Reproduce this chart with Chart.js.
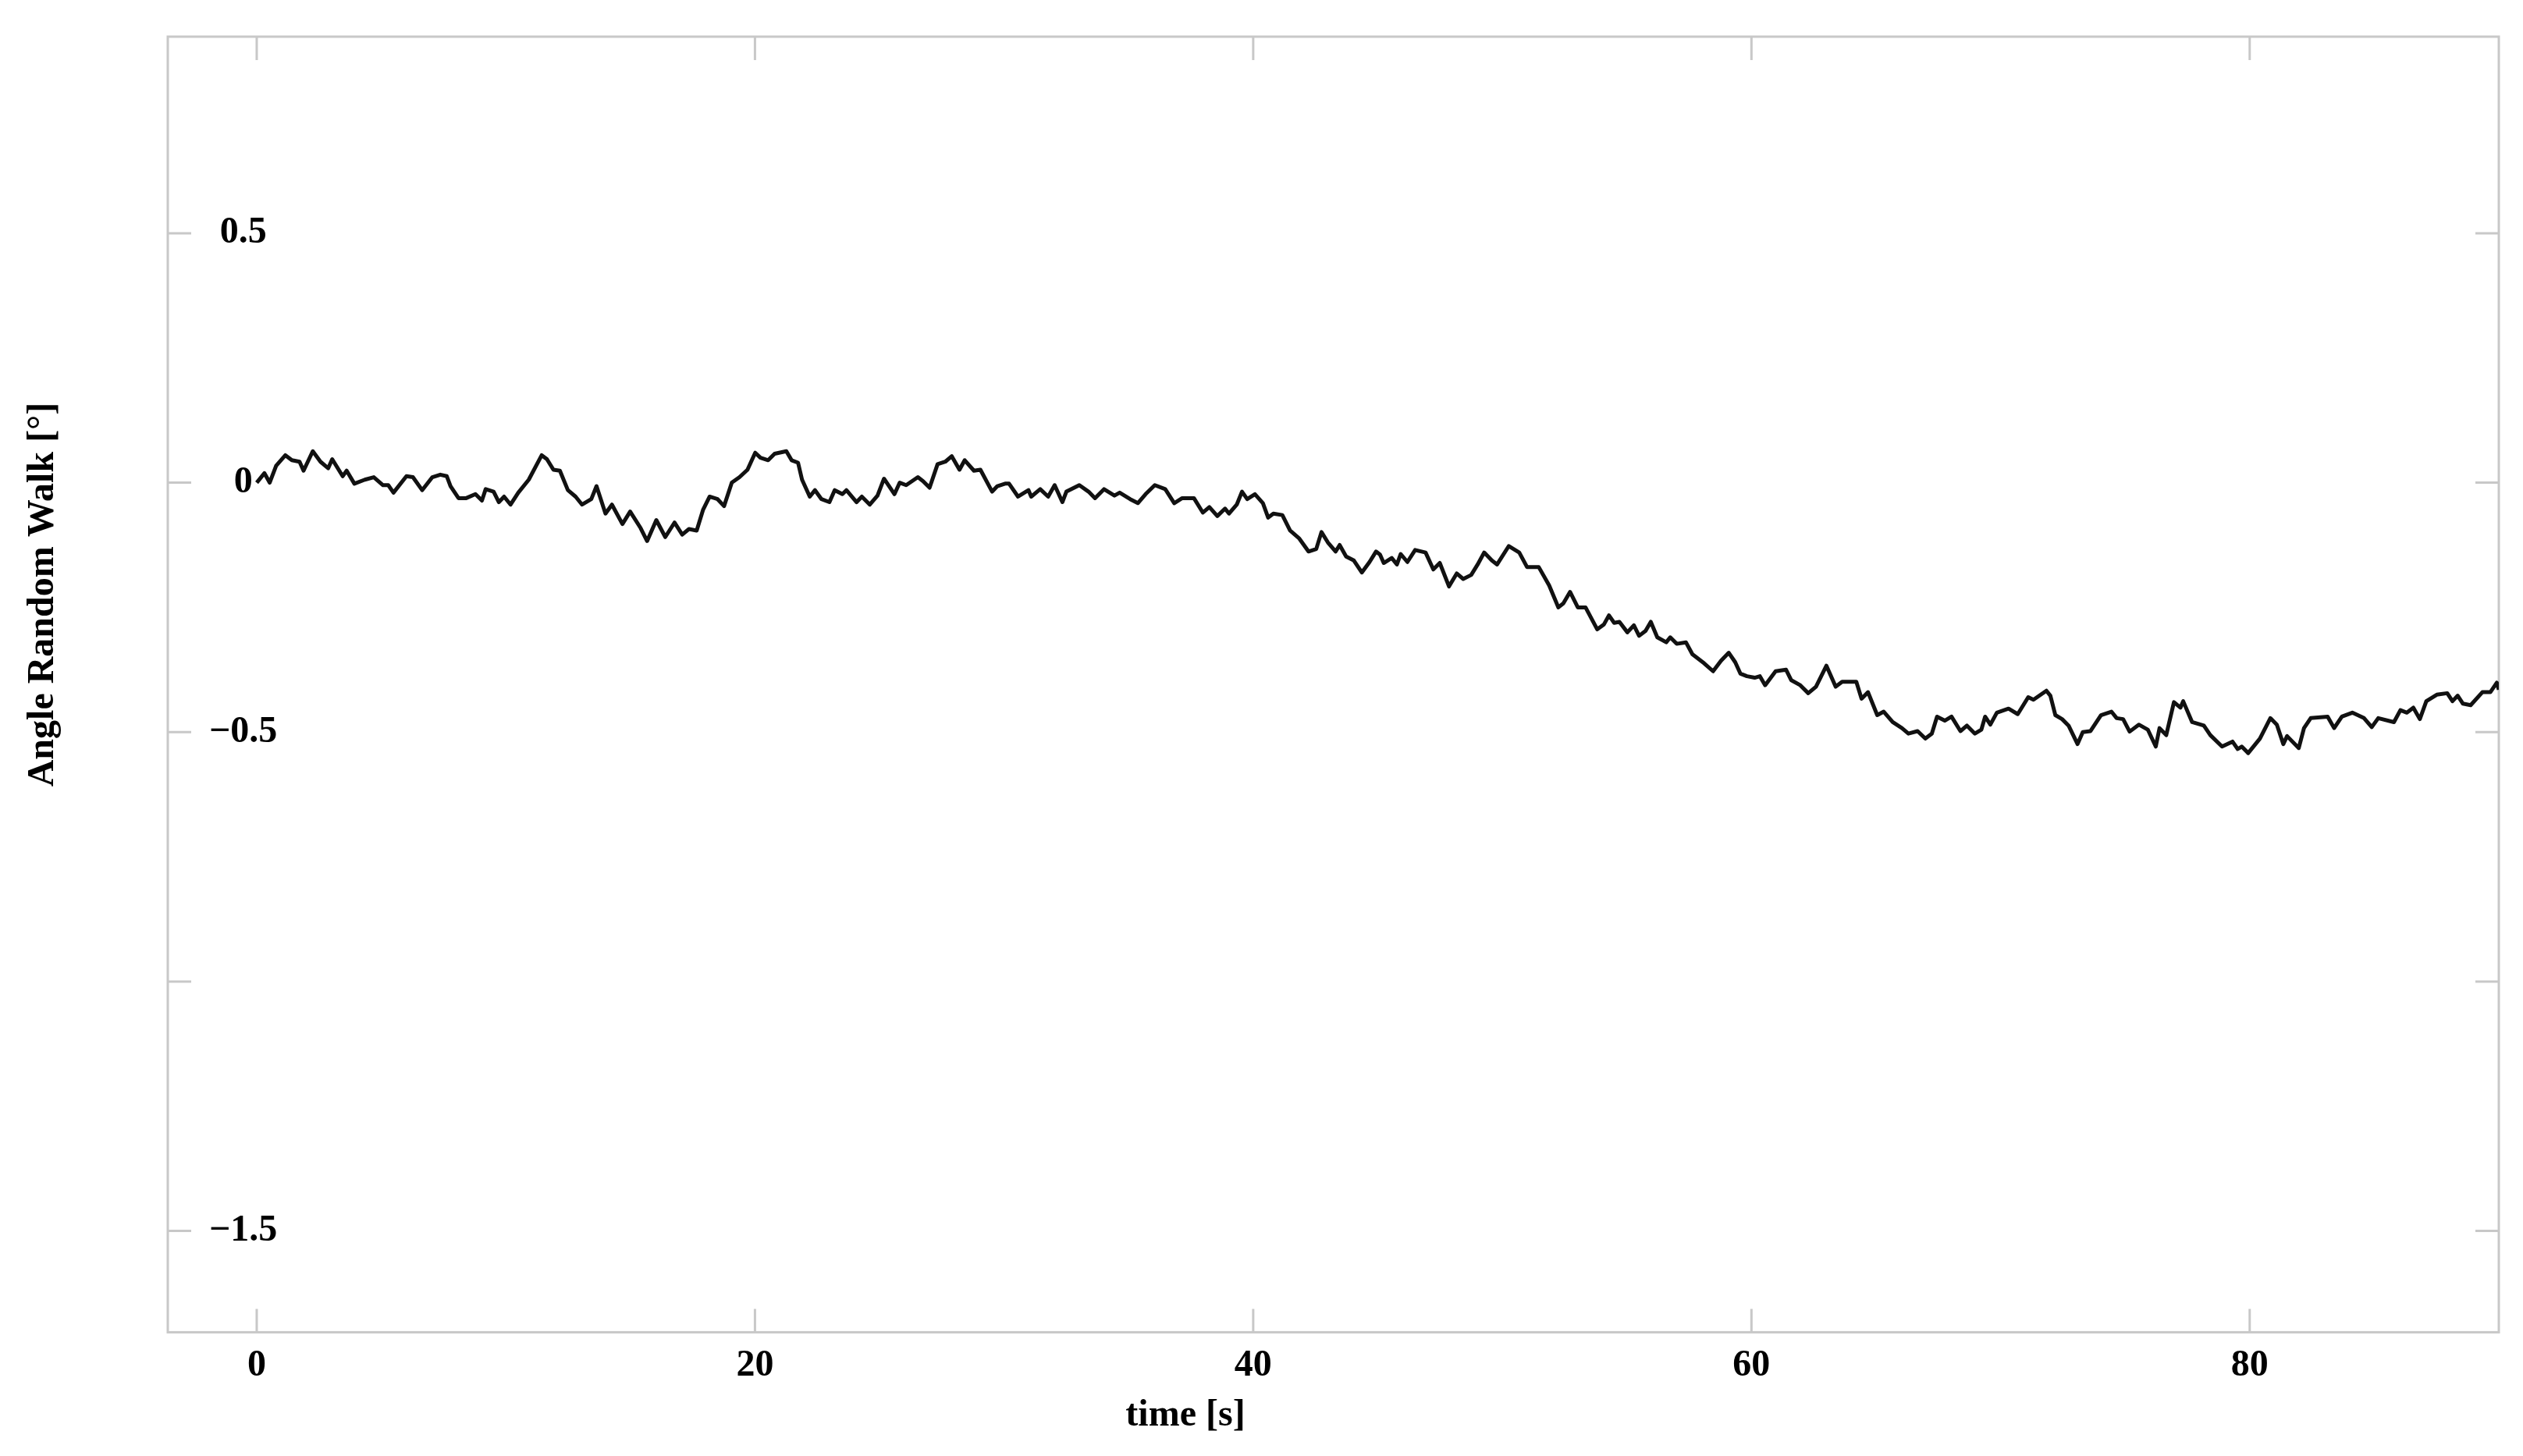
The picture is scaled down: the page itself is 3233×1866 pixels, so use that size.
<!DOCTYPE html>
<html>
<head>
<meta charset="utf-8">
<script src="https://cdn.jsdelivr.net/npm/chart.js@4.4.1/dist/chart.umd.min.js"></script>
<style>
  body { margin: 0; background: #fff; }
  canvas { display: block; }
</style>
</head>
<body>
<canvas id="arw-graph" width="3233" height="1866"></canvas>
<script>
// time [s] and angle random walk [deg]
const timeSec = [
  0, 0.31, 0.52, 0.78, 1.15, 1.41, 1.72, 1.88, 2.25, 2.56, 2.87, 3.03, 3.45, 3.61, 3.92, 4.34, 4.70, 5.07, 5.28, 5.49,
  6.01, 6.27, 6.64, 7.05, 7.37, 7.63, 7.78, 8.10, 8.41, 8.78, 9.04, 9.19, 9.51, 9.72, 9.93, 10.19, 10.50, 10.92, 11.44, 11.65,
  11.91, 12.17, 12.49, 12.80, 13.06, 13.43, 13.64, 14.00, 14.26, 14.68, 14.99,
  15.41, 15.67, 16.04, 16.40, 16.77, 17.08, 17.35, 17.66, 17.92, 18.18, 18.50, 18.76, 19.07, 19.38, 19.70, 20.01, 20.22, 20.53, 20.79, 21.26,
  21.47, 21.73, 21.89, 22.20, 22.41, 22.67, 22.99, 23.20, 23.51, 23.67, 24.08, 24.29, 24.61, 24.92, 25.18, 25.60, 25.81, 26.07, 26.54, 26.75,
  27.01, 27.33, 27.64, 27.90, 28.21, 28.42, 28.79, 29.05, 29.52, 29.73, 30.04,
  30.20, 30.56, 30.98, 31.09, 31.45, 31.77, 32.03, 32.34, 32.50, 33.02, 33.39, 33.65, 34.01, 34.43, 34.64, 35.06, 35.37, 35.68, 36.05, 36.47,
  36.83, 37.15, 37.62, 37.98, 38.24, 38.56, 38.87, 39.03, 39.34, 39.55, 39.76, 40.07, 40.39, 40.60, 40.81, 41.17, 41.48, 41.85, 42.22, 42.53,
  42.74, 43.00, 43.31, 43.47, 43.73, 44.04, 44.36, 44.67, 44.93, 45.09,
  45.24, 45.56, 45.77, 45.92, 46.19, 46.50, 46.92, 47.23, 47.49, 47.86, 48.17, 48.43, 48.75, 49.01, 49.27, 49.58, 49.79, 50.26, 50.68, 50.99,
  51.46, 51.88, 52.25, 52.45, 52.72, 53.03, 53.34, 53.81, 54.08, 54.28, 54.49, 54.70, 55.02, 55.28, 55.49, 55.75, 55.96, 56.22, 56.58, 56.74,
  57.00, 57.37, 57.63, 58.10, 58.46, 58.78, 59.09, 59.35, 59.56, 59.82, 60.13,
  60.34, 60.55, 60.97, 61.39, 61.60, 61.96, 62.28, 62.59, 63.01, 63.38, 63.64, 64.21, 64.42, 64.68, 65.05, 65.31, 65.67, 66.04, 66.30, 66.67,
  66.98, 67.24, 67.45, 67.76, 68.03, 68.39, 68.65, 68.97, 69.23, 69.38, 69.59, 69.85, 70.32, 70.69, 71.11, 71.32, 71.84, 72.00, 72.20, 72.47,
  72.73, 73.09, 73.30, 73.61, 74.03, 74.45, 74.66, 74.92, 75.18,
  75.55, 75.91, 76.23, 76.38, 76.65, 76.96, 77.22, 77.33, 77.69, 78.16, 78.42, 78.89, 79.31, 79.52, 79.68, 79.94, 80.41, 80.83, 81.09, 81.35,
  81.50, 81.97, 82.18, 82.45, 83.13, 83.39, 83.70, 84.12, 84.59, 84.90, 85.16, 85.79, 86.05, 86.31, 86.57, 86.83, 87.09, 87.51, 87.93, 88.14,
  88.35, 88.56, 88.87, 89.34, 89.66, 89.92, 90.00
];
const angleDeg = [
  0.000, 0.019, 0.000, 0.034, 0.055, 0.045, 0.042, 0.024, 0.063, 0.042, 0.029, 0.047, 0.013, 0.024, -0.002, 0.006, 0.011, -0.005, -0.005, -0.020,
  0.013, 0.011, -0.015, 0.011, 0.016, 0.013, -0.007, -0.031, -0.031, -0.023, -0.036, -0.013, -0.018, -0.039, -0.028, -0.044, -0.020, 0.006, 0.055, 0.047,
  0.026, 0.024, -0.015, -0.028, -0.044, -0.033, -0.007, -0.062, -0.044, -0.083, -0.058,
  -0.091, -0.117, -0.075, -0.109, -0.080, -0.104, -0.093, -0.096, -0.054, -0.028, -0.033, -0.047, 0.000, 0.011, 0.026, 0.060, 0.050, 0.045, 0.058, 0.063,
  0.045, 0.040, 0.006, -0.028, -0.015, -0.033, -0.039, -0.015, -0.023, -0.015, -0.039, -0.028, -0.044, -0.026, 0.008, -0.023, 0.000, -0.005, 0.011, 0.003,
  -0.010, 0.037, 0.042, 0.053, 0.026, 0.045, 0.024, 0.026, -0.018, -0.007, -0.002,
  -0.002, -0.028, -0.015, -0.028, -0.013, -0.028, -0.005, -0.039, -0.018, -0.005, -0.018, -0.031, -0.013, -0.026, -0.020, -0.033, -0.041, -0.023, -0.005, -0.013,
  -0.041, -0.031, -0.031, -0.060, -0.049, -0.067, -0.052, -0.062, -0.044, -0.018, -0.033, -0.023, -0.041, -0.070, -0.062, -0.065, -0.096, -0.112, -0.138, -0.133,
  -0.099, -0.120, -0.138, -0.125, -0.148, -0.156, -0.180, -0.159, -0.138, -0.144,
  -0.161, -0.151, -0.164, -0.143, -0.159, -0.135, -0.140, -0.174, -0.161, -0.208, -0.182, -0.193, -0.185, -0.164, -0.140, -0.156, -0.164, -0.127, -0.140, -0.169,
  -0.169, -0.206, -0.250, -0.242, -0.219, -0.250, -0.250, -0.294, -0.284, -0.266, -0.281, -0.279, -0.300, -0.286, -0.307, -0.297, -0.279, -0.310, -0.320, -0.310,
  -0.323, -0.320, -0.344, -0.362, -0.378, -0.357, -0.341, -0.360, -0.383, -0.388, -0.391,
  -0.388, -0.406, -0.378, -0.375, -0.396, -0.406, -0.422, -0.409, -0.367, -0.409, -0.399, -0.399, -0.433, -0.420, -0.466, -0.459, -0.480, -0.492, -0.503, -0.498,
  -0.513, -0.503, -0.469, -0.477, -0.469, -0.498, -0.487, -0.503, -0.495, -0.469, -0.485, -0.461, -0.453, -0.464, -0.430, -0.435, -0.417, -0.427, -0.466, -0.474,
  -0.487, -0.524, -0.500, -0.498, -0.466, -0.459, -0.472, -0.474, -0.499,
  -0.485, -0.495, -0.529, -0.492, -0.506, -0.440, -0.451, -0.438, -0.480, -0.487, -0.506, -0.529, -0.519, -0.534, -0.529, -0.542, -0.513, -0.472, -0.485, -0.524,
  -0.508, -0.532, -0.492, -0.472, -0.469, -0.492, -0.469, -0.461, -0.472, -0.490, -0.472, -0.480, -0.456, -0.461, -0.451, -0.474, -0.438, -0.425, -0.422, -0.438,
  -0.427, -0.443, -0.446, -0.420, -0.420, -0.401, -0.415
];

const xTicks = [0, 20, 40, 60, 80];
const xTickLabels = ['0', '20', '40', '60', '80'];
const yTicks = [0.5, 0, -0.5, -1, -1.5];
const yTickLabels = ['0.5', '0', '\u22120.5', '', '\u22121.5'];

const xTitle = 'time [s]';
const yTitle = 'Angle Random Walk [°]';

const serif = 'bold 48px "Liberation Serif", "Times New Roman", serif';
const frameColor = '#c8c8c8';

// grey box, inward ticks on all four sides, and the two axis titles
const framePlugin = {
    id: 'frame',
    beforeDatasetsDraw(chart) {
        const ctx = chart.ctx;
        const {left, right, top, bottom} = chart.chartArea;
        const xs = chart.scales.x;
        const ys = chart.scales.y;
        const tick = 30;

        ctx.save();
        ctx.strokeStyle = frameColor;
        ctx.lineWidth = 3;
        ctx.strokeRect(left, top, right - left, bottom - top);

        ctx.beginPath();
        xTicks.forEach(v => {
            const px = xs.getPixelForValue(v);
            ctx.moveTo(px, bottom); ctx.lineTo(px, bottom - tick);
            ctx.moveTo(px, top); ctx.lineTo(px, top + tick);
        });
        yTicks.forEach(v => {
            const py = ys.getPixelForValue(v);
            ctx.moveTo(left, py); ctx.lineTo(left + tick, py);
            ctx.moveTo(right, py); ctx.lineTo(right - tick, py);
        });
        ctx.stroke();

        ctx.fillStyle = '#000';
        ctx.font = serif;
        ctx.textAlign = 'center';
        ctx.textBaseline = 'middle';
        ctx.fillText(xTitle, left + 1304, bottom + 107);

        ctx.translate(56, top + 715);
        ctx.rotate(-Math.PI / 2);
        ctx.fillText(yTitle, 0, 0);
        ctx.restore();
    }
};

// labels sit well inside the box, so no extra room for them at the ends
const noEndPadding = (scale) => {
    scale.paddingTop = 0;
    scale.paddingBottom = 0;
    scale.paddingLeft = 0;
    scale.paddingRight = 0;
};

const canvas = document.getElementById('arw-graph');
const arw_graph = new Chart(canvas, {
    type: 'line',
    data: {
        datasets: [
            {
                label: 'ARW',
                data: timeSec.map((t, i) => ({x: t, y: angleDeg[i]})),
                borderColor: '#111111',
                borderWidth: 5,
                borderJoinStyle: 'round',
                pointRadius: 0,
                tension: 0,
            },
        ]
    },
    options: {
        responsive: false,
        animation: false,
        layout: {
            padding: {left: 109, right: 31, top: 47, bottom: 73}
        },
        plugins: {
            legend: {display: false},
            tooltip: {enabled: false},
        },
        scales: {
            x: {
                type: 'linear',
                min: -3.57,
                max: 90,
                grid: {display: false, drawTicks: false},
                border: {display: false},
                afterBuildTicks: (scale) => { scale.ticks = xTicks.map(v => ({value: v})); },
                afterFit: noEndPadding,
                ticks: {
                    padding: 14,
                    color: '#000',
                    font: {family: '"Liberation Serif"', weight: 'bold', size: 48},
                    callback: (value, index) => xTickLabels[index],
                },
            },
            y: {
                type: 'linear',
                min: -1.703,
                max: 0.894,
                grid: {display: false, drawTicks: false},
                border: {display: false},
                afterBuildTicks: (scale) => { scale.ticks = yTicks.map(v => ({value: v})); },
                afterFit: noEndPadding,
                ticks: {
                    mirror: true,
                    crossAlign: 'center',
                    padding: 53,
                    color: '#000',
                    font: {family: '"Liberation Serif"', weight: 'bold', size: 48},
                    callback: (value, index) => yTickLabels[index],
                },
            },
        },
    },
    plugins: [framePlugin],
});
</script>
</body>
</html>
